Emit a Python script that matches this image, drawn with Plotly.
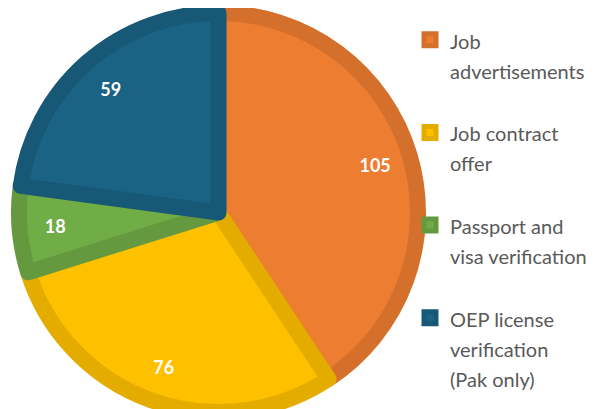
import plotly.graph_objects as go

labels = ["Job advertisements", "Job contract offer", "Passport and visa verification", "OEP license verification (Pak only)"]
legend_lines = [["Job", "advertisements"], ["Job contract", "offer"], ["Passport and", "visa verification"], ["OEP license", "verification", "(Pak only)"]]
values = [105, 76, 18, 59]
fill_colors = ["#ED7D31", "#FFC000", "#70AD47", "#1B6384"]
edge_colors = ["#D4702C", "#E5AC00", "#65993F", "#175877"]

span = '<span style="font-size:20px">{}</span>'
legend_labels = []
for i, lines in enumerate(legend_lines):
    txt = "<br>".join(span.format(l) for l in lines)
    if i < len(legend_lines) - 1:
        txt += "<br> "
    legend_labels.append(txt)

dom = dict(x=[0.0183, 0.6833], y=[0.0122, 0.9878])

fig = go.Figure()
fig.add_trace(go.Pie(
    labels=legend_labels,
    values=values,
    sort=False,
    direction="clockwise",
    rotation=0,
    marker=dict(colors=fill_colors, line=dict(color=edge_colors, width=16)),
    textinfo="none",
    domain=dom,
    hovertext=labels,
    hoverinfo="text+value",
))
# transparent overlay ring used only to place value labels near the rim
fig.add_trace(go.Pie(
    labels=labels,
    values=values,
    sort=False,
    direction="clockwise",
    rotation=0,
    hole=0.64,
    marker=dict(colors=["rgba(0,0,0,0)"] * 4, line=dict(width=0)),
    texttemplate="%{value}",
    textposition="inside",
    insidetextorientation="horizontal",
    textfont=dict(color="white", size=18, family="Lato", weight="bold"),
    domain=dom,
    showlegend=False,
    hoverinfo="skip",
))

fig.update_layout(
    width=600, height=409,
    margin=dict(l=0, r=0, t=0, b=0),
    paper_bgcolor="white",
    showlegend=True,
    legend=dict(x=0.67, y=0.975, xanchor="left", yanchor="top", valign="top",
                bgcolor="rgba(0,0,0,0)",
                font=dict(family="Lato", size=23, color="#595959"),
                itemwidth=30),
)

fig.write_html("out.html")
